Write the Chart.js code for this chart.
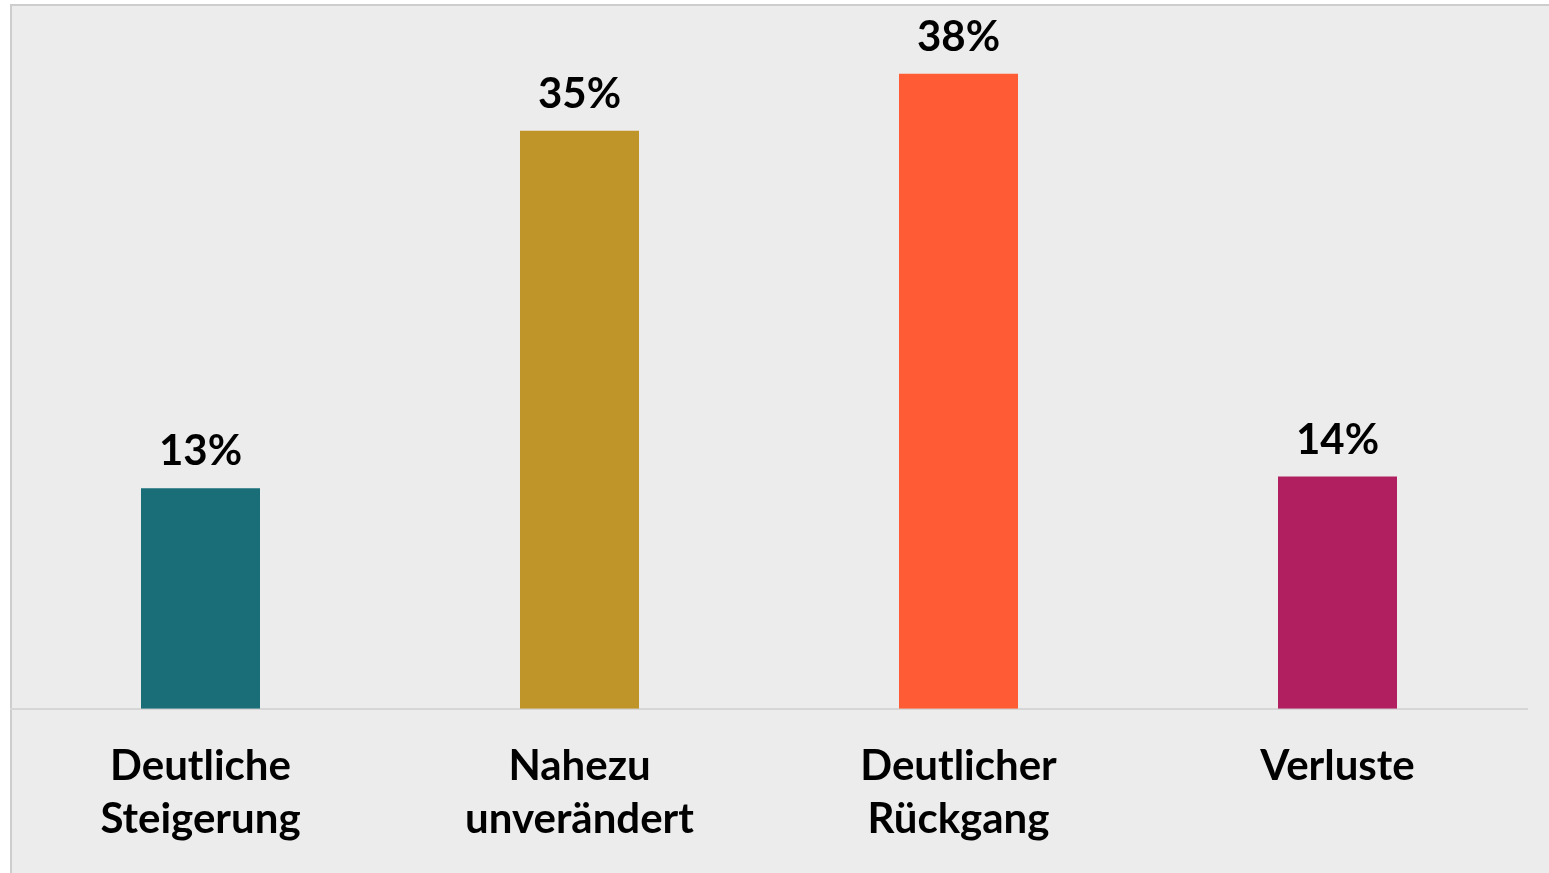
<!DOCTYPE html>
<html>
<head>
<meta charset="utf-8">
<script src="https://cdn.jsdelivr.net/npm/chart.js@4/dist/chart.umd.min.js"></script>
<style>
    html, body { margin: 0; padding: 0; background: #ffffff; overflow: hidden; }
    #panel {
        position: absolute; left: 10px; top: 4px; width: 1539px; height: 869px;
        background: #ececec; border-top: 2px solid #cdcdcd; border-left: 2px solid #cdcdcd;
    }
    #wrap { position: absolute; left: 0; top: 0; width: 1549px; height: 869px; }
</style>
</head>
<body>
<div id="panel"></div>
<div id="wrap"><canvas id="myChart"></canvas></div>
<script>
// categories and values (percent)
const categories = [['Deutliche', 'Steigerung'], ['Nahezu', 'unverändert'], ['Deutlicher', 'Rückgang'], ['Verluste']];
const values = [13.2, 34.6, 38.0, 13.9];
const valueLabels = ['13%', '35%', '38%', '14%'];
const barColors = ['#196e78', '#bf952a', '#ff5b35', '#b11f61'];

const fontFamily = 'Lato, "Open Sans", sans-serif';

// draws the percent label above each bar
const valueLabelPlugin = {
    id: 'valueLabels',
    afterDatasetsDraw(chart) {
        const ctx = chart.ctx;
        const meta = chart.getDatasetMeta(0);
        ctx.save();
        ctx.font = 'bold 42px ' + fontFamily;
        ctx.fillStyle = '#000000';
        ctx.textAlign = 'center';
        ctx.textBaseline = 'alphabetic';
        meta.data.forEach(function (bar, i) {
            ctx.fillText(valueLabels[i], bar.x, bar.y - 23);
        });
        ctx.restore();
    }
};

let myChart = document.getElementById('myChart').getContext('2d');

let barChart = new Chart(myChart, {
    type: 'bar',
    data: {
        labels: categories,
        datasets: [{
            data: values,
            backgroundColor: barColors,
            borderWidth: 0,
            categoryPercentage: 1,
            barPercentage: 0.314
        }]
    },
    plugins: [valueLabelPlugin],
    options: {
        responsive: true,
        maintainAspectRatio: false,
        animation: false,
        layout: {
            padding: { left: 11, right: 22, top: 7, bottom: 0 }
        },
        plugins: {
            legend: { display: false },
            tooltip: { enabled: false }
        },
        scales: {
            x: {
                grid: { display: false },
                border: { color: '#d6d6d6', width: 2 },
                ticks: {
                    color: '#000000',
                    padding: 24,
                    font: { family: fontFamily, size: 42, weight: 'bold', lineHeight: 1.24 }
                }
            },
            y: {
                display: false,
                min: 0,
                max: 42
            }
        }
    }
});
</script>
</body>
</html>
